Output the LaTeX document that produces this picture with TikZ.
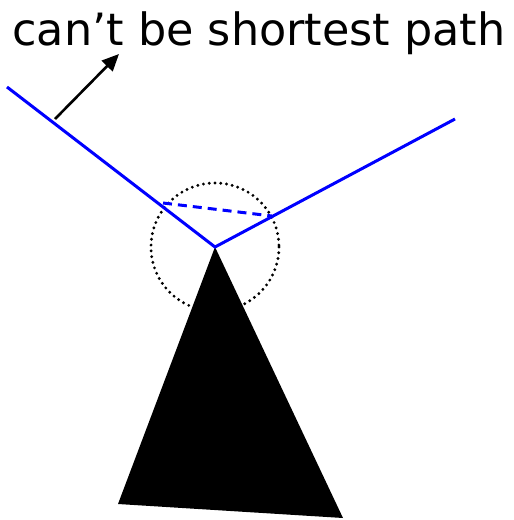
\documentclass[tikz,border=0pt]{standalone}
\usepackage{fontspec}
\setmainfont{DejaVu Sans}
\usetikzlibrary{arrows.meta}
\definecolor{routeblue}{RGB}{0,0,255}

\begin{document}
\begin{tikzpicture}[x=1pt, y=-1pt,
    route/.style={draw=routeblue, line width=3pt},
    shortcut/.style={draw=routeblue, line width=3pt, dash pattern=on 9pt off 6pt},
    nbhd/.style={draw=black, line width=3.2pt, line cap=round, dash pattern=on 0pt off 5.8pt},
    pointer/.style={-{Triangle[length=17pt, width=15pt]}, line width=2.6pt},
    obstacle/.style={fill=black},
    caption/.style={anchor=base, inner sep=0pt, font=\fontsize{44.5}{50}\selectfont}
  ]
  \useasboundingbox (0,0) rectangle (514,520);

  \coordinate (vtx) at (215,247);
  \coordinate (farleft) at (7,87);
  \coordinate (farright) at (455,119);
  \coordinate (cutleft) at (163,203);
  \coordinate (cutright) at (272,216);
  \coordinate (tail) at (55,119);
  \coordinate (tip) at (119,54);
  \coordinate (baseleft) at (118,504);
  \coordinate (baseright) at (343,518);

  \node[caption] (lbl) at (259,45) {can’t be shortest path};

  \fill[obstacle] (vtx) -- (baseright) -- (baseleft) -- cycle;
  \draw[nbhd] (vtx) circle[radius=64];
  \draw[route] (farleft) -- (vtx) -- (farright);
  \draw[shortcut] (cutleft) -- (cutright);
  \draw[pointer] (tail) -- (tip);
\end{tikzpicture}
\end{document}
